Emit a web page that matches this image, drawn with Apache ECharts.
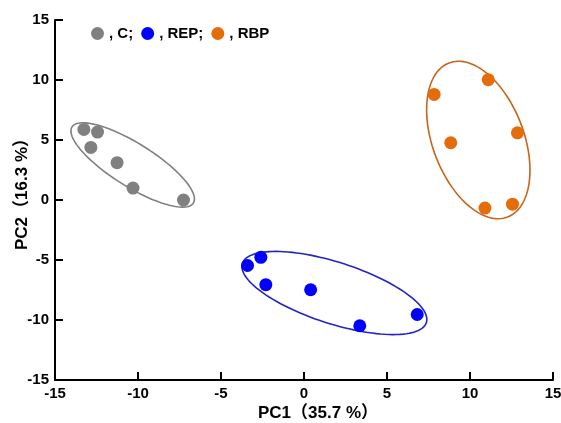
<!DOCTYPE html>
<html>
<head>
<meta charset="utf-8">
<script src="https://cdn.jsdelivr.net/npm/echarts@6/dist/echarts.min.js"></script>
<style>
html,body{margin:0;padding:0;background:#fff;}
#chart{width:561px;height:423px;}
</style>
</head>
<body>
<div id="chart"></div>
<script>
// ---- data ----
var groupNames = ['C', 'REP', 'RBP'];
var pointsC = [[-13.26, 5.88], [-12.44, 5.66], [-12.84, 4.38], [-11.26, 3.11], [-10.30, 0.99], [-7.26, 0.0]];
var pointsREP = [[-3.40, -5.46], [-2.60, -4.78], [-2.30, -7.06], [0.40, -7.48], [3.36, -10.48], [6.82, -9.54]];
var pointsRBP = [[11.10, 10.03], [7.84, 8.80], [12.86, 5.60], [8.84, 4.77], [10.90, -0.67], [12.56, -0.35]];
// ellipse: [centerX, centerY, semiAxis1 dx, dy, semiAxis2 dx, dy] in data units
var ellipseC = [-10.32, 2.92, 3.66, -3.16, -0.666, -1.54];
var ellipseREP = [1.83, -7.75, 5.54, -2.47, -0.576, -2.43];
var ellipseRBP = [10.5, 5.0, 1.8, -6.4, 2.54, 1.45];
var axisMin = -15, axisMax = 15, axisStep = 5;
var xTitle = 'PC1\uff0835.7 %\uff09';
var yTitle = 'PC2\uff0816.3 %\uff09';

var colors = {C: '#808080', REP: '#0000ff', RBP: '#e46c0a'};
var ellipseColors = {C: '#808080', REP: '#2323c8', RBP: '#c8641a'};

var chart = echarts.init(document.getElementById('chart'), null, {renderer: 'canvas'});

function ellipseSeries(name, params) {
  return {
    type: 'custom',
    name: name + '_ellipse',
    silent: true,
    clip: false,
    z: 1,
    data: [params],
    encode: {x: 0, y: 1},
    renderItem: function (p, api) {
      var cx = api.value(0), cy = api.value(1);
      var ax = api.value(2), ay = api.value(3), bx = api.value(4), by = api.value(5);
      var pts = [];
      for (var i = 0; i < 120; i++) {
        var t = i / 120 * Math.PI * 2;
        pts.push(api.coord([cx + ax * Math.cos(t) + bx * Math.sin(t), cy + ay * Math.cos(t) + by * Math.sin(t)]));
      }
      return {
        type: 'polygon',
        shape: {points: pts},
        style: {fill: 'transparent', stroke: ellipseColors[name], lineWidth: 1.6}
      };
    }
  };
}

function scatterSeries(name, pts) {
  return {
    type: 'scatter',
    name: name,
    data: pts,
    symbol: 'circle',
    symbolSize: 13,
    z: 3,
    itemStyle: {color: colors[name], opacity: 1},
    emphasis: {disabled: true}
  };
}

var axisCommon = {
  type: 'value',
  min: axisMin,
  max: axisMax,
  interval: axisStep,
  splitLine: {show: false},
  axisLine: {show: true, onZero: false, lineStyle: {color: '#000', width: 2}},
  axisTick: {show: true, inside: true, length: 8, lineStyle: {color: '#000', width: 2}},
  axisLabel: {color: '#000', fontSize: 15, fontWeight: 'bold', fontFamily: 'Liberation Sans, Arial, sans-serif', margin: 6},
  nameLocation: 'middle',
  nameMoveOverlap: false,
  nameTextStyle: {color: '#000', fontSize: 17, fontWeight: 'bold', fontFamily: 'Liberation Sans, Arial, Noto Sans CJK SC, sans-serif'}
};

var option = {
  backgroundColor: '#fff',
  animation: false,
  grid: {left: 55, right: 8, top: 20, bottom: 43, containLabel: false, outerBoundsMode: 'none'},
  legend: {
    data: groupNames,
    left: 91,
    top: 26,
    padding: 0,
    icon: 'circle',
    itemWidth: 13,
    itemHeight: 13,
    itemGap: 8,
    selectedMode: false,
    formatter: function (name) {
      return ', ' + name + (name === groupNames[groupNames.length - 1] ? '' : ';');
    },
    textStyle: {color: '#000', fontSize: 15, fontWeight: 'bold', fontFamily: 'Liberation Sans, Arial, sans-serif'}
  },
  xAxis: Object.assign({}, axisCommon, {
    name: xTitle,
    nameGap: 25,
    nameTextStyle: Object.assign({}, axisCommon.nameTextStyle, {padding: [0, 0, 0, 28]})
  }),
  yAxis: Object.assign({}, axisCommon, {
    name: yTitle,
    nameGap: 24,
    nameTextStyle: Object.assign({}, axisCommon.nameTextStyle, {padding: [0, 0, 0, 20]})
  }),
  series: [
    ellipseSeries('C', ellipseC),
    ellipseSeries('REP', ellipseREP),
    ellipseSeries('RBP', ellipseRBP),
    scatterSeries('C', pointsC),
    scatterSeries('REP', pointsREP),
    scatterSeries('RBP', pointsRBP)
  ]
};
chart.setOption(option);
</script>
</body>
</html>
